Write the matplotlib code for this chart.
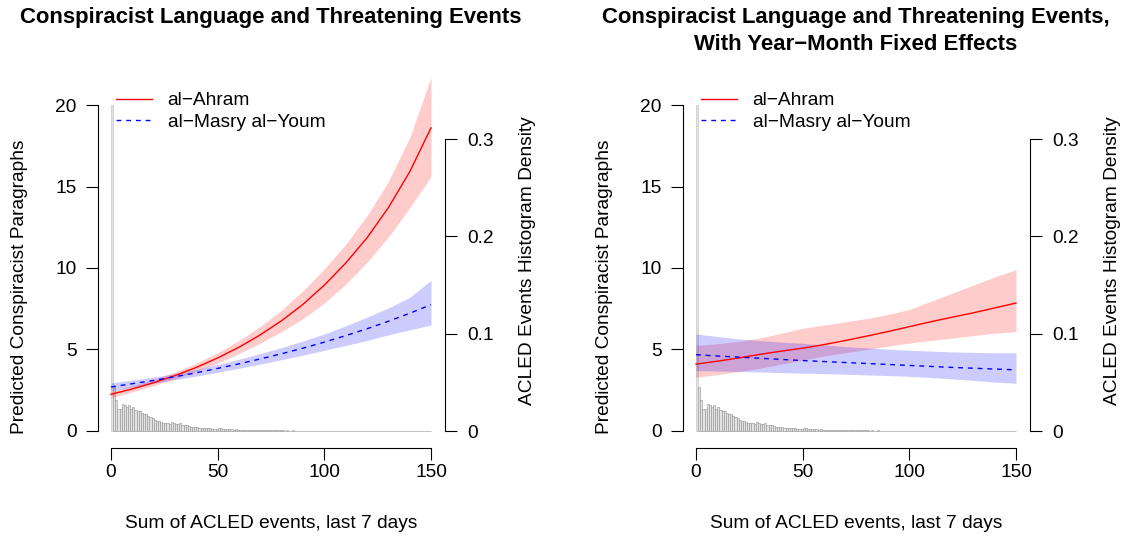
import numpy as np
import matplotlib
matplotlib.use("Agg")
import matplotlib.pyplot as plt
from matplotlib.lines import Line2D

plt.rcParams['font.family'] = ['Liberation Sans', 'DejaVu Sans']

# ---------------- data ----------------
events = [0, 10, 20, 30, 40, 50, 60, 70, 80, 90, 100, 110, 120, 130, 140, 150]

# panel 1: no fixed effects
ahram_fit = [2.25, 2.58, 2.96, 3.4, 3.9, 4.48, 5.14, 5.9, 6.77, 7.77, 8.95, 10.3, 11.85, 13.7, 15.9, 18.6]
ahram_lo = [2.05, 2.4, 2.78, 3.2, 3.66, 4.17, 4.75, 5.4, 6.1, 6.9, 7.85, 9.0, 10.35, 11.9, 13.7, 15.6]
ahram_hi = [2.45, 2.78, 3.16, 3.62, 4.16, 4.8, 5.55, 6.42, 7.42, 8.6, 9.95, 11.45, 13.2, 15.3, 18.0, 21.7]
masry_fit = [2.7, 2.9, 3.1, 3.33, 3.57, 3.84, 4.12, 4.42, 4.74, 5.08, 5.45, 5.85, 6.27, 6.73, 7.22, 7.75]
masry_lo = [2.48, 2.7, 2.92, 3.15, 3.37, 3.6, 3.85, 4.1, 4.38, 4.65, 4.95, 5.25, 5.55, 5.9, 6.2, 6.5]
masry_hi = [2.95, 3.12, 3.3, 3.52, 3.78, 4.08, 4.4, 4.75, 5.12, 5.52, 5.95, 6.45, 6.98, 7.55, 8.2, 9.25]

# panel 2: year-month fixed effects
ahram_fe_fit = [4.1, 4.28, 4.48, 4.7, 4.9, 5.08, 5.3, 5.55, 5.82, 6.1, 6.4, 6.7, 6.98, 7.25, 7.55, 7.85]
ahram_fe_lo = [3.3, 3.45, 3.65, 3.85, 4.1, 4.35, 4.6, 4.8, 5.0, 5.2, 5.4, 5.55, 5.7, 5.85, 6.0, 6.1]
ahram_fe_hi = [5.25, 5.35, 5.5, 5.7, 6.0, 6.3, 6.5, 6.7, 6.9, 7.15, 7.45, 7.95, 8.45, 8.95, 9.45, 9.9]
masry_fe_fit = [4.68, 4.6, 4.53, 4.46, 4.39, 4.32, 4.26, 4.2, 4.14, 4.08, 4.02, 3.96, 3.9, 3.85, 3.8, 3.75]
masry_fe_lo = [3.7, 3.68, 3.65, 3.62, 3.58, 3.55, 3.52, 3.48, 3.44, 3.4, 3.35, 3.28, 3.2, 3.1, 3.0, 2.93]
masry_fe_hi = [5.95, 5.8, 5.65, 5.55, 5.45, 5.38, 5.28, 5.18, 5.1, 5.02, 4.95, 4.9, 4.85, 4.82, 4.8, 4.8]

# histogram of ACLED events (bin width 1, bins 0..149), density
hist_density = [
    0.335, 0.045, 0.032, 0.023, 0.0225, 0.028, 0.027, 0.025, 0.027, 0.023,
    0.025, 0.0215, 0.0205, 0.0205, 0.018, 0.0175, 0.017, 0.0155, 0.0147, 0.013,
    0.0113, 0.0102, 0.0106, 0.0096, 0.0085, 0.0078, 0.0078, 0.0072, 0.0089, 0.0078,
    0.0068, 0.0068, 0.0078, 0.0061, 0.0064, 0.0061, 0.005, 0.0044, 0.0044, 0.0041,
    0.0038, 0.003, 0.003, 0.0034, 0.003, 0.0027, 0.0034, 0.0024, 0.0024, 0.002,
    0.0027, 0.003, 0.0022, 0.002, 0.0018, 0.002, 0.0016, 0.0014, 0.0016, 0.0012,
    0.0012, 0.001, 0.0014, 0.001, 0.0012, 0.0008, 0.001, 0.0012, 0.0008, 0.001,
    0.0008, 0.001, 0.0006, 0.0008, 0.001, 0.0008, 0.0006, 0.0008, 0.0006, 0.0008,
    0.0006, 0.0004, 0.0006, 0.0005, 0.0004, 0.0006, 0.0004, 0.0005, 0.0004, 0.0003,
    0.0004, 0.0005, 0.0003, 0.0004, 0.0004, 0.0003, 0.0005, 0.0004, 0.0003, 0.0004,
    0.0003, 0.0004, 0.0003, 0.0003, 0.0004, 0.0003, 0.0002, 0.0003, 0.0004, 0.0003,
    0.0003, 0.0002, 0.0003, 0.0003, 0.0002, 0.0003, 0.0002, 0.0003, 0.0002, 0.0002,
    0.0003, 0.0002, 0.0002, 0.0003, 0.0002, 0.0002, 0.0003, 0.0002, 0.0002, 0.0002,
    0.0002, 0.0003, 0.0002, 0.0002, 0.0002, 0.0003, 0.0002, 0.0002, 0.0002, 0.0002,
    0.0003, 0.0002, 0.0002, 0.0002, 0.0003, 0.0002, 0.0002, 0.0002, 0.0003, 0.0002,
]
hist_bins = list(range(len(hist_density)))

titles = ["Conspiracist Language and Threatening Events",
          "Conspiracist Language and Threatening Events,\nWith Year\u2212Month Fixed Effects"]
xlab = "Sum of ACLED events, last 7 days"
ylab = "Predicted Conspiracist Paragraphs"
ylab2 = "ACLED Events Histogram Density"
names = ["al\u2212Ahram", "al\u2212Masry al\u2212Youm"]

FS = 13.8
W, H = 1124, 540


def draw_panel(fig, left_px, fits, title, title_y):
    # axes box in pixels (R style 4% padding around data range)
    ax = fig.add_axes([left_px / W, (H - 444) / H, 345.6 / W, 352 / H])
    axh = ax.twinx()
    ax.set_zorder(axh.get_zorder() + 1)
    ax.patch.set_visible(False)

    # histogram on the secondary axis
    edge = ['#c4c4c4'] + ['#9a9a9a'] * (len(hist_density) - 1)
    axh.bar(hist_bins, hist_density, width=1, align='edge', color='#e2e2e2',
            edgecolor=edge, linewidth=0.45)
    axh.set_ylim(-0.01336, 0.3484)
    axh.set_yticks([0, 0.1, 0.2, 0.3])
    axh.set_yticklabels(["0", "0.1", "0.2", "0.3"])

    (a_fit, a_lo, a_hi), (m_fit, m_lo, m_hi) = fits
    ax.fill_between(events, a_lo, a_hi, color='red', alpha=0.2, linewidth=0, clip_on=False)
    ax.fill_between(events, m_lo, m_hi, color='blue', alpha=0.2, linewidth=0, clip_on=False)
    ax.plot(events, a_fit, color='red', lw=1.0, clip_on=False)
    ax.plot(events, m_fit, color='blue', lw=1.0, dashes=(3.5, 3.5), clip_on=False)

    ax.set_xlim(-6, 156)
    ax.set_ylim(-0.8, 20.8)
    axh.set_xlim(-6, 156)
    ax.set_xticks([0, 50, 100, 150])
    ax.set_yticks([0, 5, 10, 15, 20])

    for a in (ax, axh):
        for s in ('top', 'right', 'left', 'bottom'):
            a.spines[s].set_visible(False)
    ax.spines['left'].set_visible(True)
    ax.spines['left'].set_bounds(0, 20)
    ax.spines['bottom'].set_visible(True)
    ax.spines['bottom'].set_bounds(0, 150)
    ax.spines['bottom'].set_position(('outward', 3))
    axh.spines['right'].set_visible(True)
    axh.spines['right'].set_bounds(0, 0.3)
    axh.spines['right'].set_position(('outward', 1))
    for a in (ax, axh):
        for s in a.spines.values():
            s.set_linewidth(0.8)

    ax.tick_params(axis='y', direction='out', length=8.6, width=0.8, pad=7, labelsize=FS)
    ax.tick_params(axis='x', direction='out', length=8.6, width=0.8, pad=3, labelsize=FS)
    axh.tick_params(axis='y', direction='out', length=8.6, width=0.8, pad=7, labelsize=FS)

    cx = (left_px + 345.6 / 2) / W
    fig.text(cx, 1 - title_y / H, title, ha='center', va='top', fontsize=15.9,
             fontweight='bold', linespacing=1.35)
    fig.text(cx, 1 - 523 / H, xlab, ha='center', va='center', fontsize=FS)
    fig.text((left_px - 79) / W, 1 - 287 / H, ylab, ha='center', va='center',
             rotation=90, fontsize=FS)
    fig.text((left_px + 429) / W, 1 - 261 / H, ylab2, ha='center', va='center',
             rotation=90, fontsize=FS)

    handles = [Line2D([], [], color='red', lw=1.0),
               Line2D([], [], color='blue', lw=1.0, dashes=(3.5, 3.5))]
    ax.legend(handles, names, loc='upper left', bbox_to_anchor=(0.0515, 1.0),
              frameon=False, fontsize=FS, handlelength=1.87, handletextpad=0.83,
              labelspacing=0.22, borderpad=0, borderaxespad=0)
    return ax


fig = plt.figure(figsize=(W / 100, H / 100), dpi=100)
draw_panel(fig, 98.2, [(ahram_fit, ahram_lo, ahram_hi), (masry_fit, masry_lo, masry_hi)],
           titles[0], 7)
draw_panel(fig, 683.2, [(ahram_fe_fit, ahram_fe_lo, ahram_fe_hi),
                        (masry_fe_fit, masry_fe_lo, masry_fe_hi)],
           titles[1], 7)

fig.savefig("out.png", dpi=100)
